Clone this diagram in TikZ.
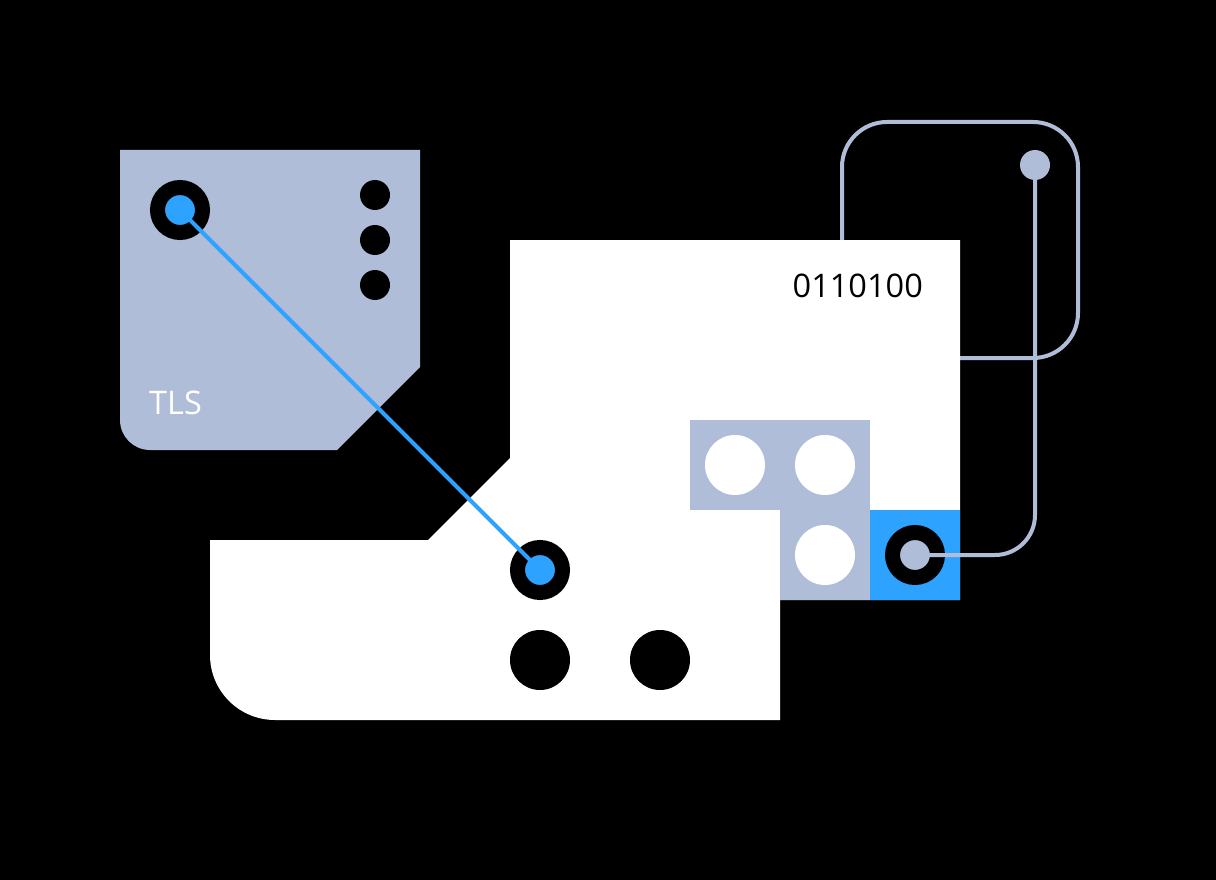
\documentclass[tikz,border=0pt]{standalone}
\usepackage{fontspec}
\setmainfont{Open Sans}
\definecolor{slate}{RGB}{175,189,216}
\definecolor{signal}{RGB}{46,162,255}

\begin{document}
\begin{tikzpicture}[x=1pt, y=-1pt,
  port/.style = {circle, draw=black, line width=15pt, minimum size=45pt, inner sep=0pt},
  pin/.style = {circle, fill=black, inner sep=0pt, minimum size=#1},
  hole/.style = {circle, fill=white, inner sep=0pt, minimum size=60pt},
  label/.style = {font=\fontsize{32.5}{32.5}\selectfont, inner sep=0pt},
  wire/.style = {line width=4pt, line cap=round}]
  \useasboundingbox (0,0) rectangle (1216,880);
  \fill[black] (0,0) rectangle (1216,880);
  % key outline behind the host board
  \draw[slate, line width=4pt, rounded corners=45pt] (842,122) rectangle (1078,358);
  % host board
  \fill[white] (510,240) -- (960,240) -- (960,600) -- (780,600) -- (780,720) -- (275,720)
    arc[start angle=90, end angle=180, radius=65] -- (210,540) -- (428,540) -- (510,458) -- cycle;
  \fill[slate] (690,420) rectangle (870,510);
  \fill[slate] (780,510) rectangle (870,600);
  \fill[signal] (870,510) rectangle (960,600);
  % TLS panel
  \fill[slate] (120,150) -- (420,150) -- (420,367) -- (337,450) -- (150,450)
    arc[start angle=90, end angle=180, radius=30] -- cycle;

  \node[port, fill=signal] (tlsport) at (180,210) {};
  \foreach \y [count=\i] in {195,240,285}
    \node[pin=30pt] (led\i) at (375,\y) {};
  \node[label, text=white, anchor=base west] (tlslabel) at (149,414) {TLS};

  \node[port, fill=signal] (hostport) at (540,570) {};
  \node[pin=60pt] (jackA) at (540,660) {};
  \node[pin=60pt] (jackB) at (660,660) {};
  \foreach \p [count=\i] in {(735,465),(825,465),(825,555)}
    \node[hole] (hole\i) at \p {};
  \node[port, fill=slate] (chipport) at (915,555) {};
  \node[label, anchor=base east] (bits) at (923,297) {0110100};

  \node[circle, fill=slate, inner sep=0pt, minimum size=30pt] (keydot) at (1035,165) {};

  \draw[wire, signal] (tlsport.center) -- (hostport.center);
  \draw[wire, slate, rounded corners=40pt] (keydot.center) |- (chipport.center);
\end{tikzpicture}
\end{document}
